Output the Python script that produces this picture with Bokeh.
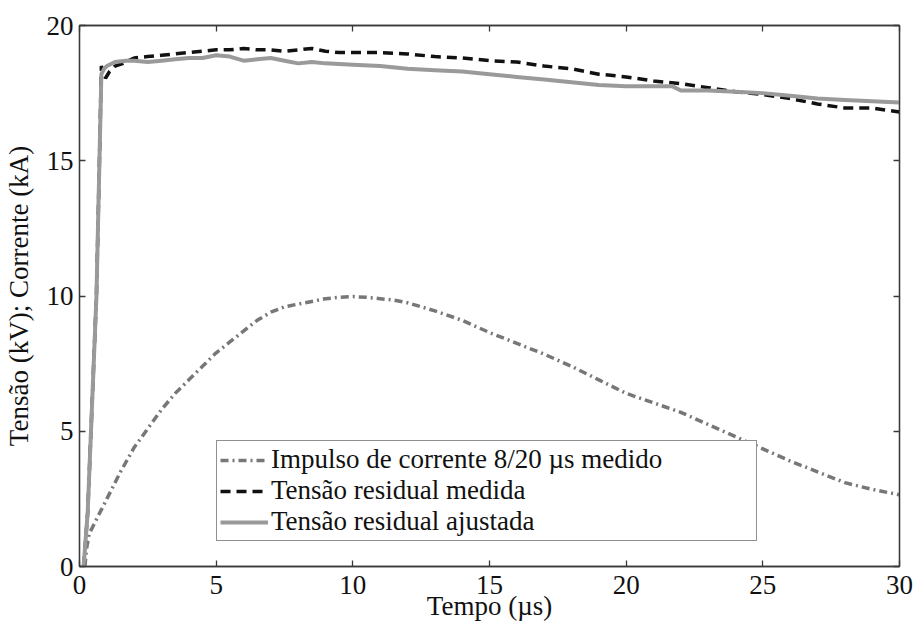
from bokeh.plotting import figure
from bokeh.models import (LinearAxis, Legend, LegendItem, Range1d, FixedTicker,
                          CustomJSTickFormatter)
from bokeh.embed import file_html
from bokeh.resources import INLINE

# ---- data ----
t_cur = [0.2, 0.25, 0.35, 0.5, 0.75, 1.0, 1.5, 2.0, 2.5, 3.0, 3.5, 4.0, 4.5, 5.0, 5.5,
         6.0, 6.5, 7.0, 7.5, 8.0, 8.5, 9.0, 9.5, 10.0, 10.5, 11.0, 11.5, 12.0, 13.0,
         14.0, 15.0, 16.0, 17.0, 18.0, 19.0, 20.0, 21.0, 22.0, 23.0, 24.0, 25.0, 26.0,
         27.0, 28.0, 29.0, 30.0]
i_cur = [0.0, 0.6, 1.2, 1.5, 2.0, 2.5, 3.5, 4.4, 5.1, 5.8, 6.4, 6.9, 7.4, 7.9, 8.3,
         8.7, 9.1, 9.4, 9.6, 9.7, 9.8, 9.9, 9.95, 9.98, 9.95, 9.9, 9.85, 9.75, 9.45,
         9.1, 8.65, 8.25, 7.85, 7.4, 6.9, 6.4, 6.05, 5.7, 5.25, 4.8, 4.35, 3.9,
         3.5, 3.1, 2.85, 2.65]

t_med = [0.15, 0.3, 0.42, 0.62, 0.74, 0.8, 0.87, 0.95, 1.1, 1.3, 1.6, 2.0, 2.5, 3.0,
         3.5, 4.0, 4.5, 5.0, 5.5, 6.0, 6.5, 7.0, 7.5, 8.0, 8.5, 9.0, 9.5, 10.0, 11.0,
         12.0, 13.0, 14.0, 15.0, 16.0, 17.0, 18.0, 19.0, 20.0, 21.0, 22.0, 23.0, 24.0,
         25.0, 26.0, 27.0, 28.0, 29.0, 30.0]
v_med = [0.0, 2.0, 5.0, 10.0, 15.5, 18.5, 18.3, 18.05, 18.3, 18.5, 18.6, 18.8, 18.85,
         18.9, 18.95, 19.0, 19.05, 19.1, 19.1, 19.15, 19.1, 19.1, 19.05, 19.1, 19.15,
         19.05, 19.0, 19.0, 19.0, 18.95, 18.85, 18.8, 18.7, 18.65, 18.5, 18.4, 18.2,
         18.1, 17.95, 17.85, 17.7, 17.55, 17.45, 17.3, 17.1, 16.95, 16.95, 16.8]

t_aju = [0.15, 0.3, 0.42, 0.62, 0.73, 0.8, 0.9, 1.0, 1.3, 1.7, 2.0, 2.5, 3.0, 3.5, 4.0,
         4.5, 5.0, 5.5, 6.0, 6.5, 7.0, 7.5, 8.0, 8.5, 9.0, 10.0, 11.0, 12.0, 13.0, 14.0,
         15.0, 16.0, 17.0, 18.0, 19.0, 20.0, 21.0, 21.7, 22.0, 23.0, 24.0, 25.0, 26.0,
         27.0, 28.0, 29.0, 30.0]
v_aju = [0.0, 2.0, 5.0, 10.0, 15.0, 18.2, 18.4, 18.5, 18.65, 18.7, 18.7, 18.65, 18.7,
         18.75, 18.8, 18.8, 18.9, 18.85, 18.7, 18.75, 18.8, 18.7, 18.6, 18.65, 18.6,
         18.55, 18.5, 18.4, 18.35, 18.3, 18.2, 18.1, 18.0, 17.9, 17.8, 17.75, 17.75,
         17.75, 17.6, 17.6, 17.55, 17.5, 17.4, 17.3, 17.25, 17.2, 17.15]

x_ticks = [0, 5, 10, 15, 20, 25, 30]
y_ticks = [0, 5, 10, 15, 20]

label_cur = "Impulso de corrente 8/20 \u00b5s medido"
label_med = "Tens\u00e3o residual medida"
label_aju = "Tens\u00e3o residual ajustada"
x_title = "Tempo (\u00b5s)"
y_title = "Tens\u00e3o (kV); Corrente (kA)"

FONT = "Liberation Serif"
FS = "27px"
AX = "#3a3a3a"

p = figure(width=916, height=625, output_backend="svg", toolbar_location=None,
           x_range=Range1d(0, 30), y_range=Range1d(0, 20),
           min_border_left=76, min_border_right=17, min_border_top=25,
           min_border_bottom=59, x_axis_label=x_title, y_axis_label=y_title)
p.grid.visible = False
p.outline_line_color = AX
p.outline_line_width = 1.3
p.background_fill_color = "white"
p.border_fill_color = "white"

for ax, ticks in ((p.xaxis[0], x_ticks), (p.yaxis[0], y_ticks)):
    ax.ticker = FixedTicker(ticks=ticks)
    ax.major_tick_in = 6
    ax.major_tick_out = 0
    ax.minor_tick_line_color = None
    ax.axis_line_color = AX
    ax.axis_line_width = 1.3
    ax.major_tick_line_color = AX
    ax.major_tick_line_width = 1.3
    ax.major_label_text_font = FONT
    ax.major_label_text_font_size = FS
    ax.major_label_text_color = "#111111"
    ax.axis_label_text_font = FONT
    ax.axis_label_text_font_size = FS
    ax.axis_label_text_font_style = "normal"
    ax.axis_label_text_color = "#111111"

p.xaxis[0].major_label_standoff = 9
p.xaxis[0].axis_label_standoff = -6
p.yaxis[0].major_label_standoff = 6
p.yaxis[0].axis_label_standoff = 10

for loc, ticks in (("above", x_ticks), ("right", y_ticks)):
    a = LinearAxis(ticker=FixedTicker(ticks=ticks),
                   formatter=CustomJSTickFormatter(code="return ''"))
    a.major_tick_in = 6
    a.major_tick_out = 0
    a.minor_tick_line_color = None
    a.axis_line_color = AX
    a.axis_line_width = 1.3
    a.major_tick_line_color = AX
    a.major_tick_line_width = 1.3
    a.major_label_standoff = 0
    p.add_layout(a, loc)

r_cur = p.line(t_cur, i_cur, line_color="#777777", line_width=3.5,
               line_dash="8 4 2 4")
r_med = p.line(t_med, v_med, line_color="#111111", line_width=3.5,
               line_dash="10 6")
r_aju = p.line(t_aju, v_aju, line_color="#9a9a9a", line_width=4)

legend = Legend(items=[LegendItem(label=label_cur, renderers=[r_cur]),
                       LegendItem(label=label_med, renderers=[r_med]),
                       LegendItem(label=label_aju, renderers=[r_aju])],
                location=(137, 25))
legend.label_text_font = FONT
legend.label_text_font_size = FS
legend.label_text_color = "#111111"
legend.glyph_width = 48
legend.glyph_height = 30
legend.label_height = 30
legend.label_width = 482
legend.label_standoff = 3
legend.spacing = 0
legend.padding = 3
legend.margin = 0
legend.border_line_color = "#222222"
legend.border_line_width = 1.2
legend.background_fill_color = "white"
legend.background_fill_alpha = 1
p.add_layout(legend, "center")

open("out.html", "w").write(file_html(p, INLINE))
